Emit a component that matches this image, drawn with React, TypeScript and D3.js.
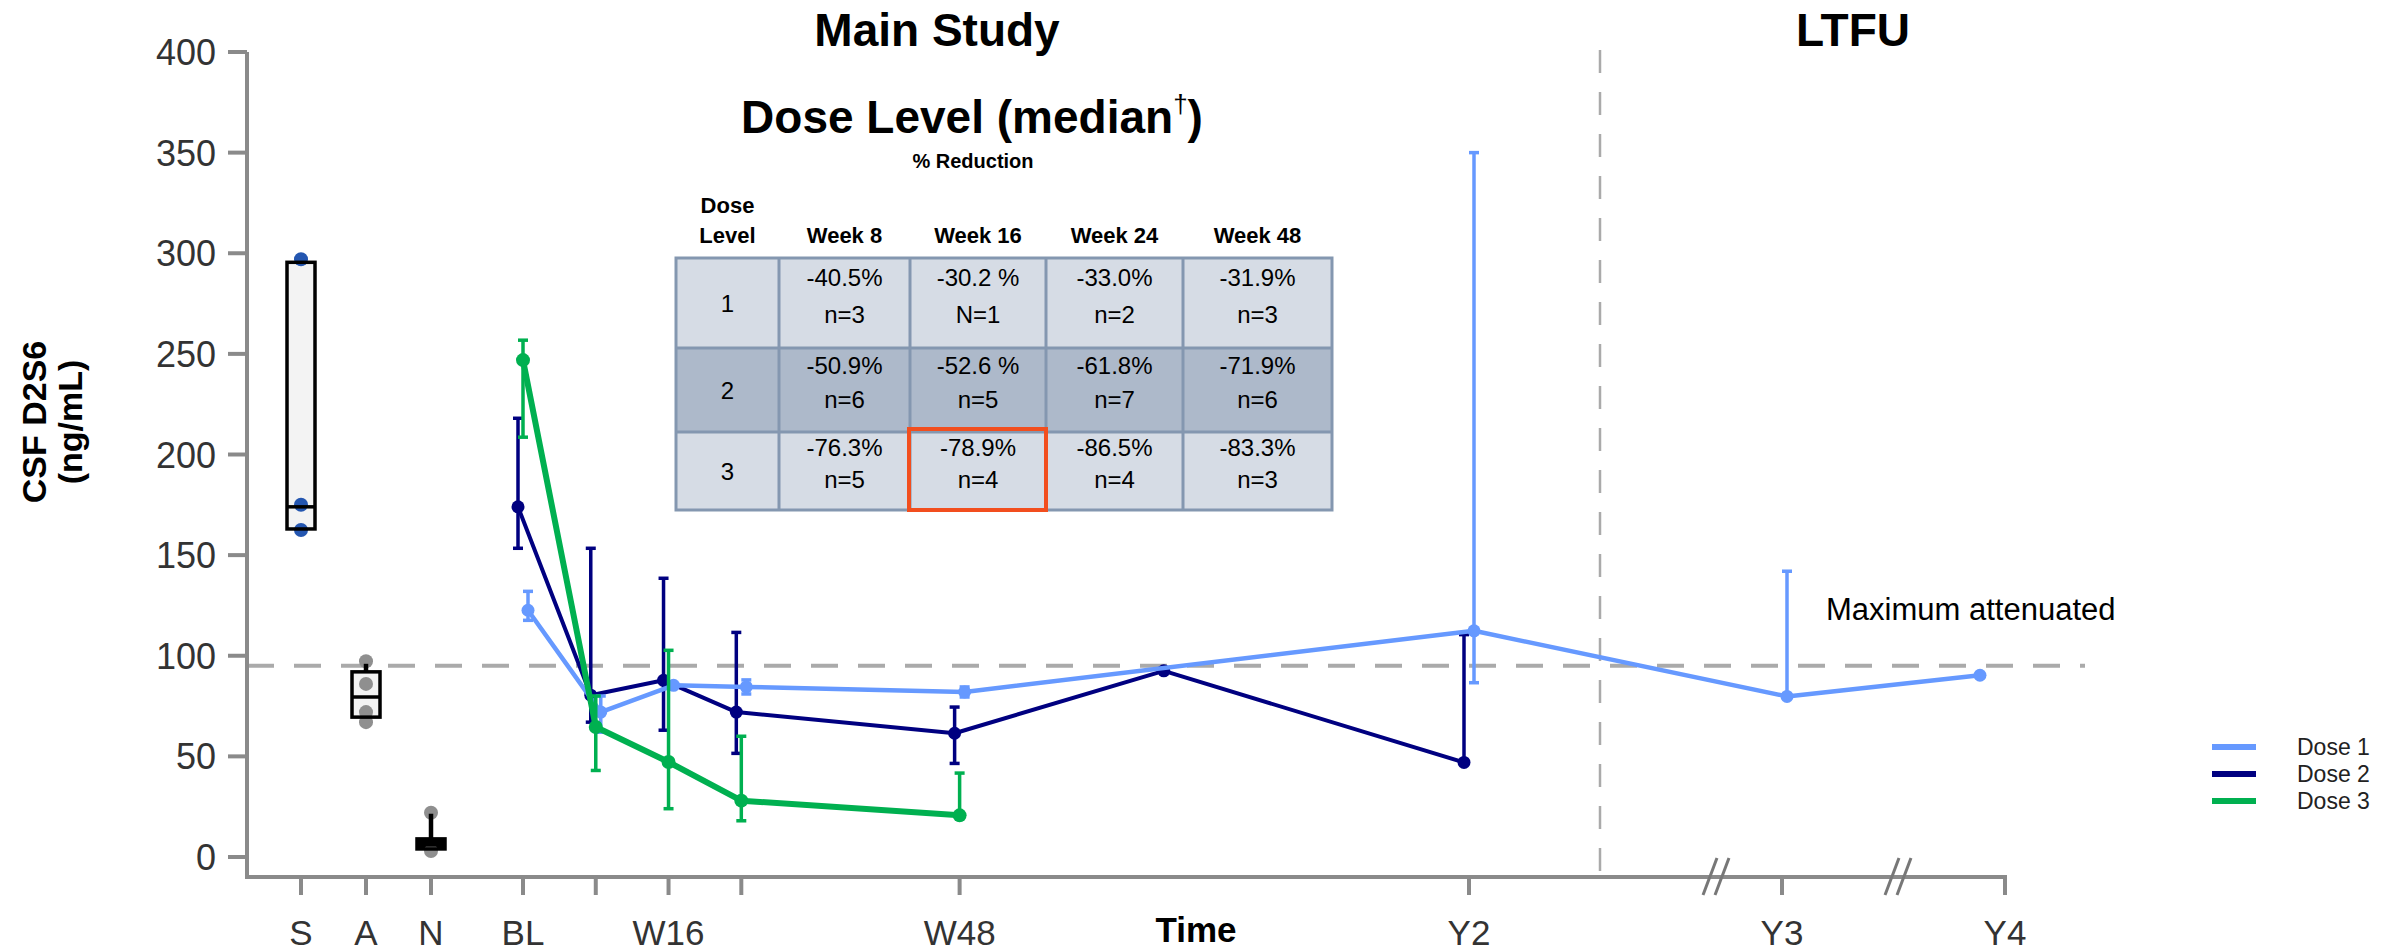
import React from 'react';
import * as d3 from 'd3';

// ─── Reference groups (box plots) ─────────────────────────────────────────────
const refGroups = ['S', 'A', 'N'];
const refQ1 = [163, 69.5, 4];
const refMedian = [174, 79.5, 6];
const refQ3 = [295.5, 92, 9];
const refWhiskerLo = [163, 69.5, 4];
const refWhiskerHi = [295.5, 96, 21.5];
const refPoints = [[297, 175, 162.5], [97.3, 86, 72, 67], [22, 3]];

// ─── Visits (weeks from baseline) ─────────────────────────────────────────────
const visitWeeks = [0, 8, 16, 24, 48, 104, 156, 208];
const visitLabels = ['BL', '', 'W16', '', 'W48', 'Y2', 'Y3', 'Y4'];
const yTickValues = [0, 50, 100, 150, 200, 250, 300, 350, 400];
const maxAttenuated = 95;

// ─── Series: median with range ───────────────────────────────────────────────
const dose1Weeks = [0, 8, 16, 24, 48, 104, 156, 201];
const dose1Median = [122.6, 72, 85.3, 84.5, 82, 112.4, 79.8, 90.3];
const dose1Lo = [117.6, 62, 85.3, 81, 79.5, 86.6, 79.8, 90.3];
const dose1Hi = [132, 80, 85.3, 88, 84.5, 350, 142, 90.3];

const dose2Weeks = [0, 8, 16, 24, 48, 71, 104];
const dose2Median = [174, 80.4, 87.8, 72, 61.5, 92.5, 47];
const dose2Lo = [153.4, 67, 63, 51.5, 46.5, 92.5, 47];
const dose2Hi = [218, 153.4, 138.5, 111.6, 74.5, 92.5, 110.5];

const dose3Weeks = [0, 8, 16, 24, 48];
const dose3Median = [246.9, 64.6, 47.2, 28, 20.7];
const dose3Lo = [208.6, 43, 24, 18, 20.7];
const dose3Hi = [256.8, 80, 102.7, 60, 41.7];

// ─── Table ───────────────────────────────────────────────────────────────────
const weekHeaders = ['Week 8', 'Week 16', 'Week 24', 'Week 48'];
const doseLevels = ['1', '2', '3'];
const pctReduction = [
    ['-40.5%', '-30.2 %', '-33.0%', '-31.9%'],
    ['-50.9%', '-52.6 %', '-61.8%', '-71.9%'],
    ['-76.3%', '-78.9%', '-86.5%', '-83.3%'],
];
const nCounts = [
    ['n=3', 'N=1', 'n=2', 'n=3'],
    ['n=6', 'n=5', 'n=7', 'n=6'],
    ['n=5', 'n=4', 'n=4', 'n=3'],
];

const FONT = '"Liberation Sans", Arial, sans-serif';
const AXIS = '#8a8a8a';

interface Series {
    name: string;
    color: string;
    width: number;
    r: number;
    dx: number;
    weeks: number[];
    median: number[];
    lo: number[];
    hi: number[];
}

const series: Series[] = [
    { name: 'Dose 2', color: '#000080', width: 4, r: 6.5, dx: -5, weeks: dose2Weeks, median: dose2Median, lo: dose2Lo, hi: dose2Hi },
    { name: 'Dose 1', color: '#6699ff', width: 4.5, r: 6.5, dx: 5, weeks: dose1Weeks, median: dose1Median, lo: dose1Lo, hi: dose1Hi },
    { name: 'Dose 3', color: '#00b050', width: 6, r: 7, dx: 0, weeks: dose3Weeks, median: dose3Median, lo: dose3Lo, hi: dose3Hi },
];
const legendOrder = ['Dose 1', 'Dose 2', 'Dose 3'];

const App: React.FC = () => {
    const width = 2394;
    const height = 951;

    // ─── Scales ──────────────────────────────────────────────────────────────
    const x = d3.scaleLinear().domain([0, 104, 156, 208]).range([523, 1469, 1782, 2005]);
    const xRef = d3.scalePoint<string>().domain(refGroups).range([301, 431]);
    const y = d3.scaleLinear().domain([0, 400]).range([857, 52]);

    const axisLeft = 247;
    const axisBottom = 877;
    const axisRight = x(208) + 2;

    const line = d3.line<[number, number]>().x(d => d[0]).y(d => d[1]);

    // ─── Table geometry ──────────────────────────────────────────────────────
    const tableX = 676;
    const tableY = 258;
    const colW = [103, 131, 136, 137, 149];
    const rowH = [90, 84, 78];
    const colX = colW.map((_, i) => tableX + d3.sum(colW.slice(0, i)));
    const rowY = rowH.map((_, i) => tableY + d3.sum(rowH.slice(0, i)));
    const tableW = d3.sum(colW);
    const tableH = d3.sum(rowH);

    return (
        <svg width={width} height={height} style={{ position: 'absolute', left: 0, top: 0, background: '#fff' }} fontFamily={FONT}>
            {/* titles */}
            <text x={937} y={46} textAnchor="middle" fontSize={46} fontWeight={700}>Main Study</text>
            <text x={1853} y={46} textAnchor="middle" fontSize={46} fontWeight={700}>LTFU</text>

            {/* divider main study / LTFU */}
            <line x1={1600} x2={1600} y1={50} y2={axisBottom} stroke="#aaa" strokeWidth={2.5} strokeDasharray="23 19" />

            {/* maximum attenuated */}
            <line x1={axisLeft} x2={2085} y1={y(maxAttenuated)} y2={y(maxAttenuated)} stroke="#aaa" strokeWidth={4} strokeDasharray="27 20" />
            <text x={1826} y={620} fontSize={31} fill="#000">Maximum attenuated</text>

            {/* y axis */}
            <line x1={axisLeft} x2={axisLeft} y1={y(400)} y2={axisBottom} stroke={AXIS} strokeWidth={4} />
            {yTickValues.map(v => (
                <g key={v}>
                    <line x1={axisLeft - 19} x2={axisLeft} y1={y(v)} y2={y(v)} stroke={AXIS} strokeWidth={4} />
                    <text x={216} y={y(v) + 13} textAnchor="end" fontSize={36} fill="#333">{v}</text>
                </g>
            ))}
            <text transform={`translate(46,422) rotate(-90)`} textAnchor="middle" fontSize={34} fontWeight={700}>CSF D2S6</text>
            <text transform={`translate(82,422) rotate(-90)`} textAnchor="middle" fontSize={34} fontWeight={700}>(ng/mL)</text>

            {/* x axis */}
            <line x1={axisLeft - 2} x2={axisRight} y1={axisBottom} y2={axisBottom} stroke={AXIS} strokeWidth={4} />
            {refGroups.map(g => (
                <g key={g}>
                    <line x1={xRef(g)} x2={xRef(g)} y1={axisBottom} y2={895} stroke={AXIS} strokeWidth={4} />
                    <text x={xRef(g)} y={945} textAnchor="middle" fontSize={35} fill="#333">{g}</text>
                </g>
            ))}
            {visitWeeks.map((w, i) => (
                <g key={w}>
                    <line x1={x(w)} x2={x(w)} y1={axisBottom} y2={895} stroke={AXIS} strokeWidth={4} />
                    <text x={x(w)} y={945} textAnchor="middle" fontSize={35} fill="#333">{visitLabels[i]}</text>
                </g>
            ))}
            <text x={1196} y={942} textAnchor="middle" fontSize={35} fontWeight={700}>Time</text>

            {/* axis breaks */}
            {[1719, 1901].map(bx => (
                <g key={bx} stroke="#777" strokeWidth={3}>
                    <line x1={bx - 16} x2={bx - 2} y1={895} y2={858} />
                    <line x1={bx - 4} x2={bx + 10} y1={895} y2={858} />
                </g>
            ))}

            {/* reference box plots */}
            {refGroups.map((g, i) => {
                const cx = xRef(g) as number;
                const bw = 28;
                const boxH = y(refQ1[i]) - y(refQ3[i]);
                return (
                    <g key={g}>
                        <rect x={cx - bw / 2} y={y(refQ3[i])} width={bw} height={boxH} fill={boxH < 15 ? '#000' : '#f3f3f3'} />
                        {refPoints[i].map((p, j) => (
                            <circle key={j} cx={cx} cy={y(p)} r={7} fill={i === 0 ? '#2456b0' : '#8f8f8f'} />
                        ))}
                        <line x1={cx} x2={cx} y1={y(refQ3[i])} y2={y(refWhiskerHi[i])} stroke="#000" strokeWidth={4.5} />
                        <line x1={cx} x2={cx} y1={y(refQ1[i])} y2={y(refWhiskerLo[i])} stroke="#000" strokeWidth={4.5} />
                        <rect x={cx - bw / 2} y={y(refQ3[i])} width={bw} height={boxH} fill="none" stroke="#000" strokeWidth={3.5} />
                        <line x1={cx - bw / 2} x2={cx + bw / 2} y1={y(refMedian[i])} y2={y(refMedian[i])} stroke="#000" strokeWidth={3.5} />
                    </g>
                );
            })}

            {/* series */}
            {series.map(s => {
                const pts: [number, number][] = s.weeks.map((w, i) => [x(w) + s.dx, y(s.median[i])]);
                return (
                    <g key={s.name}>
                        {s.weeks.map((w, i) => {
                            if (s.hi[i] - s.lo[i] < 0.01) return null;
                            const cx = x(w) + s.dx;
                            return (
                                <g key={i} stroke={s.color} strokeWidth={3.5}>
                                    <line x1={cx} x2={cx} y1={y(s.lo[i])} y2={y(s.hi[i])} />
                                    <line x1={cx - 5} x2={cx + 5} y1={y(s.lo[i])} y2={y(s.lo[i])} />
                                    <line x1={cx - 5} x2={cx + 5} y1={y(s.hi[i])} y2={y(s.hi[i])} />
                                </g>
                            );
                        })}
                        <path d={line(pts) ?? ''} fill="none" stroke={s.color} strokeWidth={s.width} strokeLinejoin="round" />
                        {pts.map((p, i) => (
                            <circle key={i} cx={p[0]} cy={p[1]} r={s.r} fill={s.color} />
                        ))}
                    </g>
                );
            })}

            {/* table title */}
            <text x={972} y={133} textAnchor="middle" fontSize={46} fontWeight={700}>
                Dose Level (median<tspan fontSize={26} fontWeight={400} dy={-20}>†</tspan><tspan dy={20}>)</tspan>
            </text>
            <text x={973} y={168} textAnchor="middle" fontSize={20} fontWeight={700}>% Reduction</text>

            {/* table header */}
            <text x={colX[0] + colW[0] / 2} y={213} textAnchor="middle" fontSize={22} fontWeight={700}>Dose</text>
            <text x={colX[0] + colW[0] / 2} y={243} textAnchor="middle" fontSize={22} fontWeight={700}>Level</text>
            {weekHeaders.map((h, j) => (
                <text key={h} x={colX[j + 1] + colW[j + 1] / 2} y={243} textAnchor="middle" fontSize={22} fontWeight={700}>{h}</text>
            ))}

            {/* table body */}
            {doseLevels.map((d, i) => (
                <g key={d}>
                    <rect x={tableX} y={rowY[i]} width={tableW} height={rowH[i]} fill={i === 1 ? '#adb9ca' : '#d6dce5'} />
                    <text x={colX[0] + colW[0] / 2} y={rowY[i] + rowH[i] / 2 + 9} textAnchor="middle" fontSize={24}>{d}</text>
                    {weekHeaders.map((_, j) => {
                        const cx = colX[j + 1] + colW[j + 1] / 2;
                        return (
                            <g key={j}>
                                <text x={cx} y={rowY[i] + rowH[i] * 0.31} textAnchor="middle" fontSize={24}>{pctReduction[i][j]}</text>
                                <text x={cx} y={rowY[i] + rowH[i] * 0.72} textAnchor="middle" fontSize={24}>{nCounts[i][j]}</text>
                            </g>
                        );
                    })}
                </g>
            ))}
            <g stroke="#8497b0" strokeWidth={3} fill="none">
                <rect x={tableX} y={tableY} width={tableW} height={tableH} />
                {colX.slice(1).map(cx => (
                    <line key={cx} x1={cx} x2={cx} y1={tableY} y2={tableY + tableH} />
                ))}
                {rowY.slice(1).map(ry => (
                    <line key={ry} x1={tableX} x2={tableX + tableW} y1={ry} y2={ry} />
                ))}
            </g>
            <rect x={colX[2] - 1} y={rowY[2] - 3} width={colW[2] + 1} height={rowH[2] + 3} fill="none" stroke="#f24e1e" strokeWidth={4} />

            {/* legend */}
            {legendOrder.map((name, i) => {
                const s = series.find(d => d.name === name) as Series;
                const ly = 747 + i * 27;
                return (
                    <g key={name}>
                        <line x1={2212} x2={2256} y1={ly} y2={ly} stroke={s.color} strokeWidth={6} />
                        <text x={2297} y={ly + 8} fontSize={23} fill="#222">{name}</text>
                    </g>
                );
            })}
        </svg>
    );
};

export default App;
